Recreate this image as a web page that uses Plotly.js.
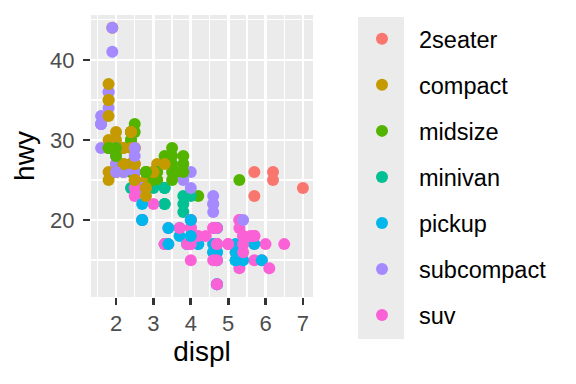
<!DOCTYPE html>
<html>
<head>
<meta charset="utf-8">
<script src="https://cdn.plot.ly/plotly-3.0.1.min.js"></script>
<style>html,body{margin:0;padding:0;background:#fff;}#chart{width:576px;height:384px;}</style>
</head>
<body>
<div id="chart"></div>
<script>
// mpg data: engine displacement (L), highway mpg, vehicle class (data order)
const displ = [
  1.8,1.8,2.0,2.0,2.8,2.8,3.1,1.8,1.8,2.0,2.0,2.8,2.8,3.1,3.1,2.8,3.1,4.2,
  5.3,5.3,5.3,5.7,6.0,5.7,5.7,6.2,6.2,7.0,5.3,5.3,5.7,6.5,2.4,2.4,3.1,3.5,3.6,
  2.4,3.0,3.3,3.3,3.3,3.3,3.3,3.8,3.8,3.8,4.0,3.7,3.7,3.9,3.9,4.7,4.7,4.7,5.2,5.2,3.9,4.7,4.7,4.7,5.2,5.7,5.9,4.7,4.7,4.7,4.7,4.7,4.7,5.2,5.2,5.7,5.9,
  4.6,5.4,5.4,4.0,4.0,4.0,4.0,4.6,5.0,4.2,4.2,4.6,4.6,4.6,5.4,5.4,3.8,3.8,4.0,4.0,4.6,4.6,4.6,4.6,5.4,
  1.6,1.6,1.6,1.6,1.6,1.8,1.8,1.8,2.0,
  2.4,2.4,2.4,2.4,2.5,2.5,3.3,2.0,2.0,2.0,2.0,2.7,2.7,2.7,
  3.0,3.7,4.0,4.7,4.7,4.7,5.7,6.1,
  4.0,4.2,4.4,4.6,
  5.4,5.4,5.4,
  4.0,4.0,4.6,5.0,
  2.4,2.4,2.5,2.5,3.5,3.5,3.0,3.0,3.5,3.3,3.3,4.0,5.6,
  3.1,3.8,3.8,3.8,5.3,
  2.5,2.5,2.5,2.5,2.5,2.5,2.2,2.2,2.5,2.5,2.5,2.5,2.5,2.5,
  2.7,2.7,3.4,3.4,4.0,4.7,2.2,2.2,2.4,2.4,3.0,3.0,3.5,2.2,2.2,2.4,2.4,3.0,3.0,3.3,1.8,1.8,1.8,1.8,1.8,4.7,5.7,2.7,2.7,2.7,3.4,3.4,4.0,4.0,
  2.0,2.0,2.0,2.0,2.8,1.9,2.0,2.0,2.0,2.0,2.5,2.5,2.8,2.8,1.9,1.9,2.0,2.0,2.5,2.5,1.8,1.8,2.0,2.0,2.8,2.8,3.6
];
const hwy = [
  29,29,31,30,26,26,27,26,25,28,27,25,25,25,25,24,25,23,
  20,15,20,17,17,26,23,26,25,24,19,14,15,17,27,30,26,29,26,
  24,24,22,22,24,24,17,22,21,23,23,19,18,17,17,19,19,12,17,15,17,17,12,17,16,18,15,16,12,17,17,16,15,15,16,17,15,
  17,17,18,17,19,17,19,19,17,17,17,16,16,17,15,17,26,25,26,24,21,22,23,22,20,
  33,32,32,29,32,34,36,36,29,
  26,27,30,31,26,26,28,26,29,28,27,24,24,24,
  22,19,20,17,12,19,18,14,
  15,18,18,15,
  17,16,18,
  17,19,19,17,
  29,27,31,32,27,26,26,25,25,17,17,20,18,
  26,26,27,28,25,
  27,26,26,24,25,23,26,26,26,26,25,27,25,27,
  20,20,19,17,20,17,29,27,31,31,26,26,28,27,29,31,31,26,26,27,30,33,35,37,35,15,18,20,20,22,17,19,18,20,
  29,26,29,29,24,44,29,26,29,29,29,29,23,24,44,41,29,26,28,29,29,29,28,29,26,26,26
];
const vclass = [
  "compact","compact","compact","compact","compact","compact","compact","compact","compact","compact","compact","compact","compact","compact","compact","midsize","midsize","midsize",
  "suv","suv","suv","suv","suv","2seater","2seater","2seater","2seater","2seater","suv","suv","suv","suv","midsize","midsize","midsize","midsize","midsize",
  "minivan","minivan","minivan","minivan","minivan","minivan","minivan","minivan","minivan","minivan","minivan",
  "pickup","pickup","pickup","pickup","pickup","pickup","pickup","pickup","pickup",
  "suv","suv","suv","suv","suv","suv","suv",
  "pickup","pickup","pickup","pickup","pickup","pickup","pickup","pickup","pickup","pickup",
  "suv","suv","suv","suv","suv","suv","suv","suv","suv","pickup","pickup","pickup","pickup","pickup","pickup","pickup",
  "subcompact","subcompact","subcompact","subcompact","subcompact","subcompact","subcompact","subcompact","subcompact",
  "subcompact","subcompact","subcompact","subcompact","subcompact","subcompact","subcompact","subcompact","subcompact",
  "midsize","midsize","midsize","midsize","midsize","midsize","midsize","subcompact","subcompact","subcompact","subcompact","subcompact","subcompact","subcompact",
  "suv","suv","suv","suv","suv","suv","suv","suv",
  "suv","suv","suv","suv",
  "suv","suv","suv",
  "suv","suv","suv","suv",
  "compact","compact","midsize","midsize","midsize","midsize","midsize","midsize","midsize","suv","suv","suv","suv",
  "midsize","midsize","midsize","midsize","midsize",
  "suv","suv","suv","suv","suv","suv","subcompact","subcompact","subcompact","subcompact","compact","compact","compact","compact",
  "suv","suv","suv","suv","suv","suv","midsize","midsize","midsize","midsize","midsize","midsize","midsize",
  "compact","compact","compact","compact","compact","compact","compact","compact","compact","compact","compact","compact","suv","suv",
  "pickup","pickup","pickup","pickup","pickup","pickup","pickup",
  "compact","compact","compact","compact","compact","compact","compact","compact","compact","compact","compact","compact","compact","compact",
  "subcompact","subcompact","subcompact","subcompact","subcompact","subcompact",
  "midsize","midsize","midsize","midsize","midsize","midsize","midsize"
];
const classNames = ["2seater","compact","midsize","minivan","pickup","subcompact","suv"];
const classColors = ["#F8766D","#C49A00","#53B400","#00C094","#00B6EB","#A58AFF","#FB61D7"];
const xTicks = [2,3,4,5,6,7];
const yTicks = [20,30,40];

const FONT = "Liberation Sans, Arial, Helvetica, sans-serif";
const colorOf = {};
classNames.forEach((c,i)=>{ colorOf[c] = classColors[i]; });

// panel in pixels
const W = 576, H = 384, L = 91, R = 313, T = 15, B = 297;
const px2x = p => (p - L) / (R - L);
const px2y = p => (B - p) / (B - T);

const traces = [{
  type: "scatter", mode: "markers",
  x: displ, y: hwy,
  marker: {color: vclass.map(c => colorOf[c]), size: 12, line: {width: 0}},
  showlegend: false, hoverinfo: "x+y+text", text: vclass
}];
classNames.forEach((c,i) => {
  traces.push({
    type: "scatter", mode: "markers", x: [null], y: [null],
    name: c, legendgroup: c,
    marker: {color: classColors[i], size: 12, line: {width: 0}},
    showlegend: true
  });
});

const layout = {
  width: W, height: H,
  margin: {l: L, r: W - R, t: T, b: H - B, pad: 0},
  paper_bgcolor: "#FFFFFF",
  plot_bgcolor: "#EBEBEB",
  font: {family: FONT, color: "#000000"},
  showlegend: true,
  legend: {
    x: px2x(345), xanchor: "left",
    y: px2y(17), yanchor: "top",
    bgcolor: "rgba(0,0,0,0)", borderwidth: 0,
    font: {family: FONT, size: 23.5, color: "#000000"},
    tracegroupgap: 12.5, itemwidth: 64,
    traceorder: "grouped",
    maxheight: 380
  },
  xaxis: {
    range: [1.33, 7.27], tickmode: "array", tickvals: xTicks, ticktext: xTicks.map(String),
    showgrid: true, gridcolor: "#FFFFFF", gridwidth: 2.7,
    minor: {tickmode: "array", tickvals: [1.5,2.5,3.5,4.5,5.5,6.5], showgrid: true, gridcolor: "#FFFFFF", gridwidth: 1.3, ticks: ""},
    zeroline: false, showline: false,
    ticks: "outside", ticklen: 7, tickwidth: 2.7, tickcolor: "#333333",
    tickfont: {family: FONT, size: 22, color: "#4D4D4D"},
    title: {text: "displ", font: {family: FONT, size: 28, color: "#000000"}, standoff: 4},
    fixedrange: true
  },
  yaxis: {
    range: [10.4, 45.6], tickmode: "array", tickvals: yTicks, ticktext: yTicks.map(String),
    showgrid: true, gridcolor: "#FFFFFF", gridwidth: 2.7,
    minor: {tickmode: "array", tickvals: [15,25,35,45], showgrid: true, gridcolor: "#FFFFFF", gridwidth: 1.3, ticks: ""},
    zeroline: false, showline: false,
    ticks: "outside", ticklen: 7, tickwidth: 2.7, tickcolor: "#333333",
    ticklabelstandoff: 4,
    tickfont: {family: FONT, size: 22, color: "#4D4D4D"},
    title: {text: "hwy", font: {family: FONT, size: 28, color: "#000000"}, standoff: 7},
    fixedrange: true
  },
  shapes: [{
    type: "rect", xref: "paper", yref: "paper",
    x0: px2x(358), x1: px2x(404), y0: px2y(339), y1: px2y(17),
    fillcolor: "#EBEBEB", line: {width: 0}, layer: "below"
  }]
};

Plotly.newPlot("chart", traces, layout, {displayModeBar: false, staticPlot: true});
</script>
</body>
</html>
